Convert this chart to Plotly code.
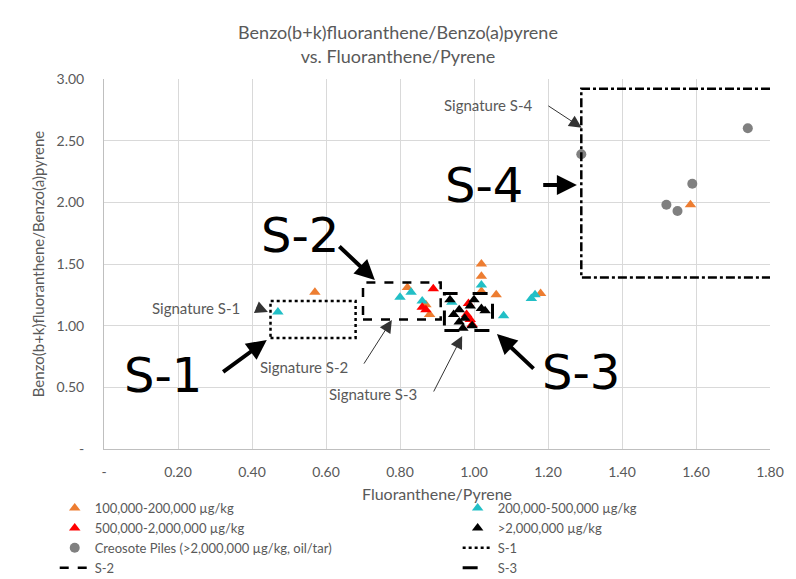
import plotly.graph_objects as go

# ---------------- data ----------------
orange_x = [0.57, 0.82, 0.87, 0.88, 1.02, 1.02, 1.02, 1.06, 1.18, 1.585]
orange_y = [1.27, 1.31, 1.17, 1.09, 1.50, 1.40, 1.28, 1.25, 1.26, 1.98]
cyan_x = [0.47, 0.80, 0.83, 0.86, 0.94, 1.02, 1.08, 1.155, 1.165]
cyan_y = [1.11, 1.23, 1.27, 1.20, 1.19, 1.33, 1.08, 1.22, 1.25]
red_x = [0.89, 0.86, 0.87, 0.985, 0.98, 0.99, 0.995]
red_y = [1.30, 1.15, 1.13, 1.18, 1.09, 1.05, 1.01]
black_x = [0.935, 1.00, 0.96, 1.02, 0.945, 0.975, 0.96, 0.995, 0.97, 0.99, 1.03]
black_y = [1.21, 1.21, 1.13, 1.14, 1.09, 1.06, 1.03, 1.00, 0.98, 1.16, 1.12]
grey_x = [1.29, 1.52, 1.55, 1.59, 1.74]
grey_y = [2.39, 1.98, 1.93, 2.15, 2.60]

s1_x = [0.45, 0.68, 0.68, 0.45, 0.45]
s1_y = [0.90, 0.90, 1.20, 1.20, 0.90]
s2_x = [0.70, 0.91, 0.91, 0.70, 0.70]
s2_y = [1.05, 1.05, 1.35, 1.35, 1.05]
s3_x = [0.92, 1.05, 1.05, 0.92, 0.92]
s3_y = [0.96, 0.96, 1.26, 1.26, 0.96]
s4_x = [1.80, 1.29, 1.29, 1.80]
s4_y = [2.92, 2.92, 1.39, 1.39]

x_ticks = [0, 0.2, 0.4, 0.6, 0.8, 1.0, 1.2, 1.4, 1.6, 1.8]
x_ticktext = ["-", "0.20", "0.40", "0.60", "0.80", "1.00", "1.20", "1.40", "1.60", "1.80"]
y_ticks = [0, 0.5, 1.0, 1.5, 2.0, 2.5, 3.0]
y_ticktext = ["-", "0.50", "1.00", "1.50", "2.00", "2.50", "3.00"]

FONT = "Lato"
GREY_TXT = "#595959"

fig = go.Figure()

def tri(x, y, name, color, lg):
    fig.add_trace(go.Scatter(x=x, y=y, mode="markers", name=name, legend=lg,
                             marker=dict(symbol="triangle-up", size=10, color=color)))

tri(orange_x, orange_y, "100,000-200,000 µg/kg", "#ED7D31", "legend")
tri(cyan_x, cyan_y, "200,000-500,000 µg/kg", "#22BFC6", "legend2")
tri(red_x, red_y, "500,000-2,000,000 µg/kg", "#FF0000", "legend")
tri(black_x, black_y, ">2,000,000 µg/kg", "#000000", "legend2")
fig.add_trace(go.Scatter(x=grey_x, y=grey_y, mode="markers", legend="legend",
                         name="Creosote Piles (>2,000,000 µg/kg, oil/tar)",
                         marker=dict(symbol="circle", size=10, color="#808080")))

fig.add_trace(go.Scatter(x=s1_x, y=s1_y, mode="lines", name="S-1", legend="legend2",
                         line=dict(color="black", width=2.5, dash="dot")))
fig.add_trace(go.Scatter(x=s2_x, y=s2_y, mode="lines", name="S-2", legend="legend",
                         line=dict(color="black", width=2.5, dash="dash")))
fig.add_trace(go.Scatter(x=s3_x, y=s3_y, mode="lines", name="S-3", legend="legend2",
                         line=dict(color="black", width=3, dash="longdash")))
fig.add_trace(go.Scatter(x=s4_x, y=s4_y, mode="lines", name="S-4", showlegend=False,
                         line=dict(color="black", width=2.5, dash="dashdot")))

annotations = []
big = [("S-1", 0.159, 0.60), ("S-2", 0.53, 1.735), ("S-3", 1.289, 0.624), ("S-4", 1.027, 2.14)]
for t, x, y in big:
    annotations.append(dict(x=x, y=y, xref="x", yref="y", text=t, showarrow=False,
                            font=dict(family="DejaVu Sans", size=48, color="black")))
big_arrows = [((0.318, 0.616), (0.44, 0.884)),
              ((0.632, 1.654), (0.732, 1.37)),
              ((1.165, 0.64), (1.062, 0.932)),
              ((1.183, 2.14), (1.278, 2.14))]
for (tx, ty), (hx, hy) in big_arrows:
    annotations.append(dict(x=hx, y=hy, ax=tx, ay=ty, xref="x", yref="y", axref="x", ayref="y",
                            text="", showarrow=True, arrowhead=2, arrowsize=1,
                            arrowwidth=4, arrowcolor="black"))
sig = [("Signature S-1", 0.249, 1.146), ("Signature S-2", 0.54, 0.667),
       ("Signature S-3", 0.727, 0.446), ("Signature S-4", 1.04, 2.79)]
for t, x, y in sig:
    annotations.append(dict(x=x, y=y, xref="x", yref="y", text=t, showarrow=False,
                            font=dict(family=FONT, size=15, color=GREY_TXT)))
sig_arrows = [((0.408, 1.154), (0.443, 1.11)),
              ((0.70, 0.68), (0.778, 1.046)),
              ((0.889, 0.454), (0.968, 0.916)),
              ((1.197, 2.79), (1.291, 2.605))]
for (tx, ty), (hx, hy) in sig_arrows:
    annotations.append(dict(x=hx, y=hy, ax=tx, ay=ty, xref="x", yref="y", axref="x", ayref="y",
                            text="", showarrow=True, arrowhead=2, arrowsize=2.5,
                            arrowwidth=1, arrowcolor="#333333"))

legend_common = dict(orientation="v", yanchor="top", xanchor="left",
                     font=dict(family=FONT, size=13, color=GREY_TXT),
                     bgcolor="rgba(0,0,0,0)")

fig.update_layout(
    width=796, height=579,
    margin=dict(l=104, r=26, t=79, b=130, autoexpand=False),
    paper_bgcolor="white", plot_bgcolor="white",
    font=dict(family=FONT, color=GREY_TXT),
    title=dict(text="Benzo(b+k)fluoranthene/Benzo(a)pyrene<br>vs. Fluoranthene/Pyrene",
               x=0.5, xref="container", xanchor="center", y=0.932, yanchor="top",
               font=dict(family=FONT, size=18, color=GREY_TXT)),
    xaxis=dict(range=[0, 1.8], tickvals=x_ticks, ticktext=x_ticktext,
               showgrid=True, gridcolor="#D9D9D9", gridwidth=1, zeroline=False,
               showline=True, linecolor="#BFBFBF", linewidth=1,
               ticks="outside", ticklen=10, tickcolor="rgba(0,0,0,0)",
               tickfont=dict(family=FONT, size=14, color=GREY_TXT),
               title=dict(text="Fluoranthene/Pyrene", standoff=10,
                          font=dict(family=FONT, size=16, color=GREY_TXT))),
    yaxis=dict(range=[0, 3], tickvals=y_ticks, ticktext=y_ticktext,
               showgrid=True, gridcolor="#D9D9D9", gridwidth=1, zeroline=False,
               showline=True, linecolor="#BFBFBF", linewidth=1,
               ticks="outside", ticklen=16, tickcolor="rgba(0,0,0,0)",
               tickfont=dict(family=FONT, size=14, color=GREY_TXT),
               title=dict(text="Benzo(b+k)fluoranthene/Benzo(a)pyrene", standoff=8,
                          font=dict(family=FONT, size=15, color=GREY_TXT))),
    legend=dict(x=-0.074, y=-0.119, **legend_common),
    legend2=dict(x=0.531, y=-0.119, **legend_common),
    annotations=annotations,
    showlegend=True,
)

fig.write_html("out.html")
